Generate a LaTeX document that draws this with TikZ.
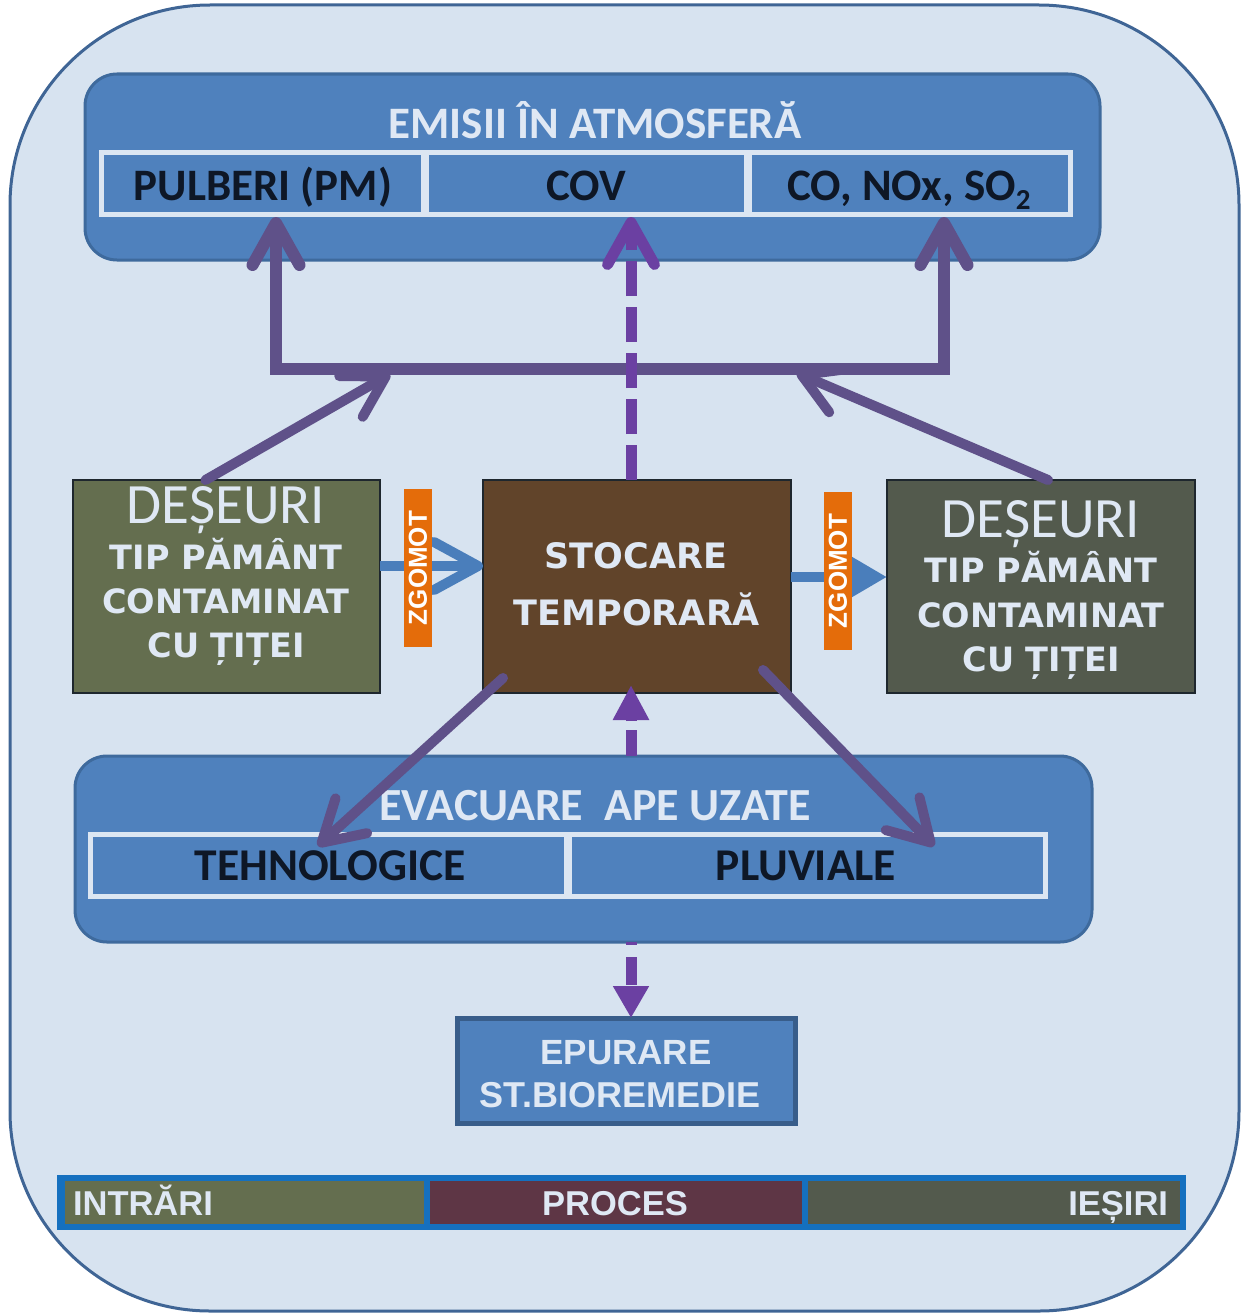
\documentclass[tikz,border=0pt]{standalone}
\usepackage{fontspec}
\setmainfont{Carlito}
\newfontfamily\widefont{DejaVu Sans}
\newfontfamily\arialfont{Liberation Sans}
\usetikzlibrary{arrows.meta,calc}

\definecolor{bgC}{HTML}{D7E3F0}
\definecolor{frameC}{HTML}{3F6595}
\definecolor{blueF}{HTML}{4F81BD}
\definecolor{panelD}{HTML}{3E6A9D}
\definecolor{stripC}{HTML}{DCE6F2}
\definecolor{oliveC}{HTML}{646E4F}
\definecolor{brownC}{HTML}{61442A}
\definecolor{greyC}{HTML}{535A4D}
\definecolor{maroonC}{HTML}{5E3645}
\definecolor{edgeC}{HTML}{1E272E}
\definecolor{orangeC}{HTML}{E46C0A}
\definecolor{lightT}{HTML}{DFE8F4}
\definecolor{darkT}{HTML}{0E1726}
\definecolor{purpleA}{HTML}{5F5189}
\definecolor{purpleB}{HTML}{6B40A2}
\definecolor{arrowBlue}{HTML}{4A7EBB}
\definecolor{barC}{HTML}{1570BF}
\definecolor{epuD}{HTML}{385D8A}

\tikzset{
  every node/.style={inner sep=0pt, outer sep=0pt},
  frame/.style={draw=frameC, line width=3pt, fill=bgC, rounded corners=200pt},
  panel/.style={draw=panelD, line width=3pt, fill=blueF, rounded corners=32pt, anchor=north west},
  stripbg/.style={fill=stripC, anchor=north west},
  cell/.style={fill=blueF, anchor=north west},
  wastebox/.style={draw=edgeC, line width=2pt, anchor=north west, minimum width=307, minimum height=213},
  zg/.style={fill=orangeC, text=white, font=\arialfont\bfseries\fontsize{26}{26}\selectfont, rotate=90, minimum width=158, minimum height=28},
  ltxt/.style={text=lightT, anchor=base},
  dtxt/.style={text=darkT, anchor=base},
  ttl/.style={ltxt, font=\bfseries\fontsize{45}{45}\selectfont},
  celltxt/.style={dtxt, font=\bfseries\fontsize{45}{45}\selectfont},
  bigword/.style={ltxt, font=\fontsize{57}{57}\selectfont},
  widetxt/.style={ltxt, font=\widefont\bfseries\fontsize{33.5}{33.5}\selectfont},
  stotxt/.style={ltxt, font=\widefont\bfseries\fontsize{35}{35}\selectfont},
  artxt/.style={ltxt, font=\arialfont\bfseries\fontsize{35}{35}\selectfont},
  bartxt/.style={ltxt, font=\arialfont\bfseries\fontsize{34.5}{34.5}\selectfont},
  brk/.style={draw=purpleA, line width=12pt},
  diag/.style={draw=purpleA, line width=10pt, line cap=round},
  dsh/.style={draw=purpleB, line width=11pt},
  bluearrow/.style={draw=arrowBlue, line width=10pt},
  barb/.style={-{Straight Barb[round,length=40pt,width=47pt]}},
}

\begin{document}
\begin{tikzpicture}[x=1pt,y=-1pt]
\useasboundingbox (0,0) rectangle (1244,1314);

% outer frame
\node[frame, anchor=north west, minimum width=1229, minimum height=1306] (frame) at (10,5) {};

% emissions panel
\node[panel, minimum width=1015, minimum height=186] (emi) at (85,74) {};
\node[stripbg, minimum width=974, minimum height=67] (emiS) at (99,150) {};
\node[cell, minimum width=317, minimum height=57] (pm) at (104,155) {};
\node[cell, minimum width=315, minimum height=57] (cov) at (429,155) {};
\node[cell, minimum width=316, minimum height=57] (gas) at (752,155) {};
\node[ttl] (emiT) at (595,138) {EMISII ÎN ATMOSFERĂ};
\node[celltxt] (pmT) at (263,200) {PULBERI (PM)};
\node[celltxt] (covT) at (586,200) {COV};
\node[celltxt] (gasT) at (909,200) {CO, NOx, SO\raisebox{-0.22em}{\fontsize{29}{29}\selectfont 2}};

% waste and storage boxes
\node[wastebox, fill=oliveC] (inL) at (73,480) {};
\node[wastebox, fill=brownC, minimum width=308] (sto) at (483,480) {};
\node[wastebox, fill=greyC, minimum width=308] (outR) at (887,480) {};

\node[bigword] (dL) at (226,523) {DEȘEURI};
\node[widetxt] (dL1) at (226,569) {TIP PĂMÂNT};
\node[widetxt] (dL2) at (226,613) {CONTAMINAT};
\node[widetxt] (dL3) at (226,657) {CU ȚIȚEI};

\node[stotxt] (s1) at (636,568) {STOCARE};
\node[stotxt] (s2) at (637,625) {TEMPORARĂ};

\node[bigword] (dR) at (1041,537) {DEȘEURI};
\node[widetxt] (dR1) at (1041,582) {TIP PĂMÂNT};
\node[widetxt] (dR2) at (1041,627) {CONTAMINAT};
\node[widetxt] (dR3) at (1041,671) {CU ȚIȚEI};

% waste water panel
\node[panel, minimum width=1017, minimum height=186] (eva) at (75,756) {};
\node[stripbg, minimum width=960, minimum height=67] (evaS) at (88,832) {};
\node[cell, minimum width=471, minimum height=57] (teh) at (93,837) {};
\node[cell, minimum width=471, minimum height=57] (plu) at (572,837) {};
\node[ttl, font=\bfseries\fontsize{46}{46}\selectfont] (evaT) at (595,820) {EVACUARE\ \ APE UZATE};
\node[celltxt, font=\bfseries\fontsize{45.5}{45.5}\selectfont] (tehT) at (330,880) {TEHNOLOGICE};
\node[celltxt, font=\bfseries\fontsize{45.5}{45.5}\selectfont] (pluT) at (806,880) {PLUVIALE};

% treatment box
\node[draw=epuD, line width=5pt, fill=blueF, anchor=north west, minimum width=338, minimum height=105] (epu) at (457,1018) {};
\node[artxt] (e1) at (626,1064) {EPURARE};
\node[artxt, font=\arialfont\bfseries\fontsize{36}{36}\selectfont] (e2) at (620,1107) {ST.BIOREMEDIE};

% legend bar
\node[fill=barC, anchor=north west, minimum width=1129, minimum height=55] (bar) at (57,1175) {};
\node[fill=oliveC, anchor=north west, minimum width=359, minimum height=43] (intr) at (65,1181) {};
\node[fill=maroonC, anchor=north west, minimum width=372, minimum height=43] (proc) at (430,1181) {};
\node[fill=greyC, anchor=north west, minimum width=372, minimum height=43] (ies) at (808,1181) {};
\node[bartxt, anchor=base west] (intrT) at (73,1215) {INTRĂRI};
\node[bartxt] (procT) at (615,1215) {PROCES};
\node[bartxt, anchor=base east] (iesT) at (1168,1215) {IEȘIRI};

% connector points
\coordinate (jl) at (276,369);
\coordinate (jr) at (944,369);
\coordinate (jlm) at (390,374);
\coordinate (jrm) at (797,373);
\coordinate (cx) at (631,0);
\coordinate (tl) at (318,846);
\coordinate (tr) at (934,846);

% emissions collector
\draw[brk, {Straight Barb[round,length=42pt,width=47pt]}-{Straight Barb[round,length=42pt,width=47pt]}]
  (emiS.south -| jl) -- (jl) -- (jr) -- (emiS.south -| jr);
\draw[diag, barb] ([xshift=-21pt]inL.north) -- (jlm);
\draw[diag, barb] ([xshift=7pt]outR.north) -- (jrm);

% storage to air (dashed)
\draw[dsh, dash pattern=on 35pt off 11pt, -{Straight Barb[round,length=42pt,width=47pt]}]
  (sto.north -| cx) -- (emiS.south -| cx);

% storage to waste water
\draw[diag, barb] ([xshift=20pt,yshift=15pt]sto.south west) -- (tl);
\draw[diag, barb] ([xshift=-28pt,yshift=23pt]sto.south east) -- (tr);
\draw[dsh, dash pattern=on 26pt off 9pt, -{Triangle[length=35pt,width=34pt]}]
  (eva.north -| cx) -- ($(sto.south -| cx)+(0,-8)$);
\draw[dsh, dash pattern=on 28pt off 12pt, dash phase=25pt, -{Triangle[length=32pt,width=34pt]}]
  (eva.south -| cx) -- (epu.north -| cx);

% material flow with noise
\draw[bluearrow, -{Straight Barb[round,length=44pt,width=48pt]}] ([yshift=20.5pt]inL.east) -- ([yshift=20.5pt]sto.west);
\draw[bluearrow, -{Triangle[length=38pt,width=41pt]}] ([yshift=9.5pt]sto.east) -- ([yshift=9.5pt]outR.west);
\node[zg] (zl) at (418,568) {ZGOMOT};
\node[zg] (zr) at (838,571) {ZGOMOT};
\end{tikzpicture}
\end{document}
